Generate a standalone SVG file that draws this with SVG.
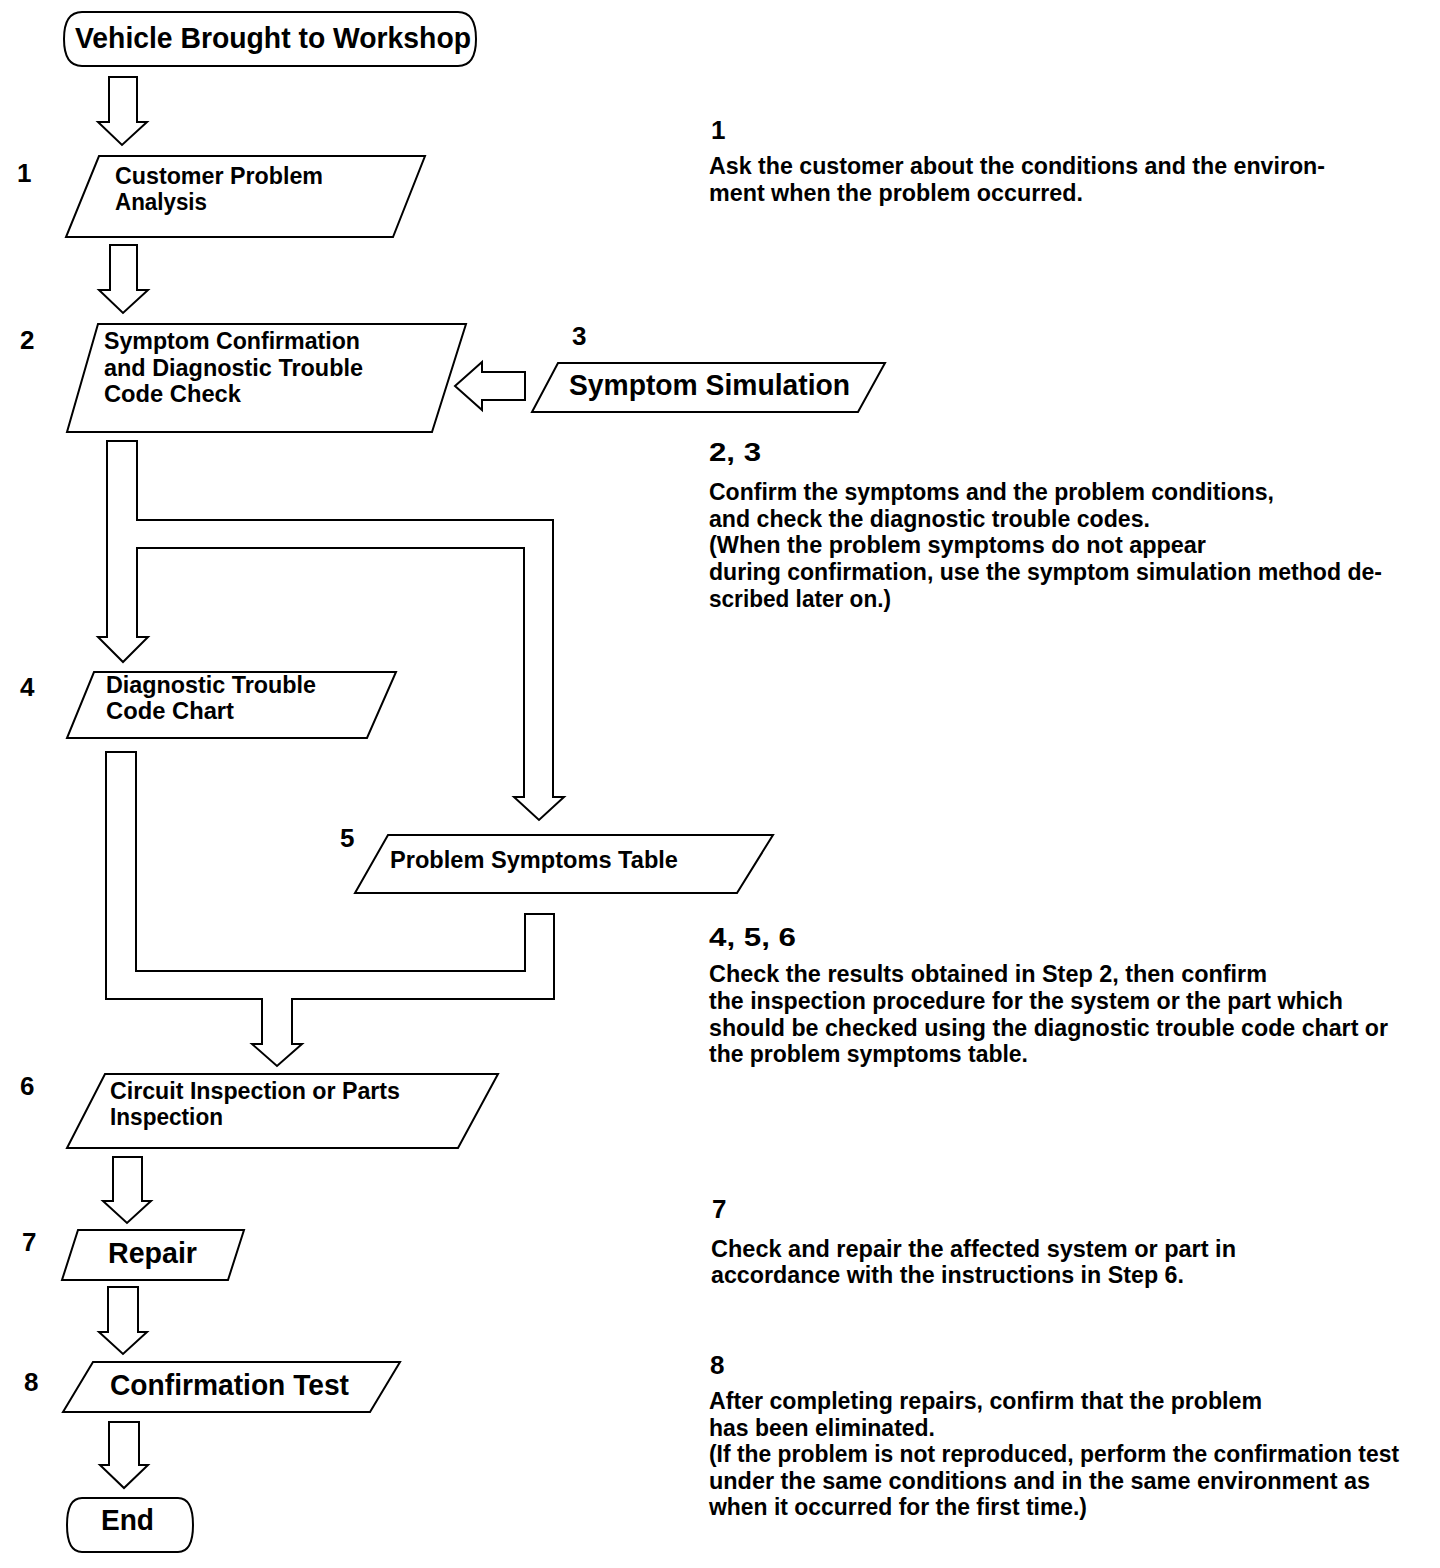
<svg xmlns="http://www.w3.org/2000/svg" width="1440" height="1568" viewBox="0 0 1440 1568">
<style>
.shape{fill:#fff;stroke:#000;stroke-width:2;stroke-linejoin:miter}
.arrow{fill:#fff;stroke:#000;stroke-width:2;stroke-linejoin:miter}
text{font-family:"Liberation Sans",Arial,Helvetica,sans-serif;font-weight:bold;fill:#000}
.s{font-size:23px}
.b{font-size:29px}
.n{font-size:26px}
.d{font-size:23px}
</style>
<rect x="0" y="0" width="1440" height="1568" fill="#fff"/>
<g id="connectors">
<polygon class="arrow" points="109,77 137,77 137,122 147,122 122,145 98,122 109,122"/>
<polygon class="arrow" points="110,245 137,245 137,290 148,290 123,313 99,290 110,290"/>
<polygon class="arrow" points="525,372 525,400 482,400 482,410 455,386 482,362 482,372"/>
<polygon class="arrow" points="107,441 137,441 137,520 553,520 553,797 564,797 539,820 514,797 524,797 524,548 137,548 137,637 148,637 123,662 98,637 107,637"/>
<polygon class="arrow" points="106,752 136,752 136,971 525,971 525,914 554,914 554,999 292,999 292,1044 302,1044 277,1066 252,1044 262,1044 262,999 106,999"/>
<polygon class="arrow" points="113,1157 142,1157 142,1201 151,1201 127,1223 103,1201 113,1201"/>
<polygon class="arrow" points="108,1287 138,1287 138,1332 147,1332 123,1354 99,1332 108,1332"/>
<polygon class="arrow" points="109,1422 139,1422 139,1465 148,1465 124,1488 100,1465 109,1465"/>
</g>
<g id="start">
<path class="shape" d="M82,12 H458 Q476,12 476,39 Q476,66 458,66 H82 Q64,66 64,39 Q64,12 82,12 Z"/>
<text class="b" x="75" y="48" textLength="396" lengthAdjust="spacingAndGlyphs">Vehicle Brought to Workshop</text>
</g>
<g id="step1">
<polygon class="shape" points="99,156 425,156 393,237 66,237"/>
<text class="n" x="17" y="182">1</text>
<text class="s" x="115" y="184" textLength="208" lengthAdjust="spacingAndGlyphs">Customer Problem</text>
<text class="s" x="115" y="210" textLength="92" lengthAdjust="spacingAndGlyphs">Analysis</text>
</g>
<g id="step2">
<polygon class="shape" points="98,324 466,324 432,432 67,432"/>
<text class="n" x="20" y="349">2</text>
<text class="s" x="104" y="349" textLength="256" lengthAdjust="spacingAndGlyphs">Symptom Confirmation</text>
<text class="s" x="104" y="376" textLength="259" lengthAdjust="spacingAndGlyphs">and Diagnostic Trouble</text>
<text class="s" x="104" y="402" textLength="137" lengthAdjust="spacingAndGlyphs">Code Check</text>
</g>
<g id="step3">
<polygon class="shape" points="558,363 885,363 858,412 532,412"/>
<text class="n" x="572" y="345">3</text>
<text class="b" x="569" y="395" textLength="281" lengthAdjust="spacingAndGlyphs">Symptom Simulation</text>
</g>
<g id="step4">
<polygon class="shape" points="94,672 396,672 367,738 67,738"/>
<text class="n" x="20" y="696">4</text>
<text class="s" x="106" y="693" textLength="210" lengthAdjust="spacingAndGlyphs">Diagnostic Trouble</text>
<text class="s" x="106" y="719" textLength="128" lengthAdjust="spacingAndGlyphs">Code Chart</text>
</g>
<g id="step5">
<polygon class="shape" points="388,835 773,835 737,893 355,893"/>
<text class="n" x="340" y="847">5</text>
<text class="s" x="390" y="868" textLength="288" lengthAdjust="spacingAndGlyphs">Problem Symptoms Table</text>
</g>
<g id="step6">
<polygon class="shape" points="105,1074 498,1074 458,1148 67,1148"/>
<text class="n" x="20" y="1095">6</text>
<text class="s" x="110" y="1099" textLength="290" lengthAdjust="spacingAndGlyphs">Circuit Inspection or Parts</text>
<text class="s" x="110" y="1125" textLength="113" lengthAdjust="spacingAndGlyphs">Inspection</text>
</g>
<g id="step7">
<polygon class="shape" points="78,1230 244,1230 228,1280 62,1280"/>
<text class="n" x="22" y="1251">7</text>
<text class="b" x="108" y="1263" textLength="89" lengthAdjust="spacingAndGlyphs">Repair</text>
</g>
<g id="step8">
<polygon class="shape" points="93,1362 400,1362 370,1412 63,1412"/>
<text class="n" x="24" y="1391">8</text>
<text class="b" x="110" y="1395" textLength="239" lengthAdjust="spacingAndGlyphs">Confirmation Test</text>
</g>
<g id="end">
<path class="shape" d="M82,1498 H178 Q193,1498 193,1525 Q193,1552 178,1552 H82 Q67,1552 67,1525 Q67,1498 82,1498 Z"/>
<text class="b" x="101" y="1530" textLength="53" lengthAdjust="spacingAndGlyphs">End</text>
</g>
<g id="notes">
<text class="n" x="711" y="139">1</text>
<text class="d" x="709" y="174" textLength="616" lengthAdjust="spacingAndGlyphs">Ask the customer about the conditions and the environ-</text>
<text class="d" x="709" y="201" textLength="374" lengthAdjust="spacingAndGlyphs">ment when the problem occurred.</text>
<text class="n" x="709" y="461" textLength="52" lengthAdjust="spacingAndGlyphs">2, 3</text>
<text class="d" x="709" y="500" textLength="565" lengthAdjust="spacingAndGlyphs">Confirm the symptoms and the problem conditions,</text>
<text class="d" x="709" y="527" textLength="441" lengthAdjust="spacingAndGlyphs">and check the diagnostic trouble codes.</text>
<text class="d" x="709" y="553" textLength="497" lengthAdjust="spacingAndGlyphs">(When the problem symptoms do not appear</text>
<text class="d" x="709" y="580" textLength="673" lengthAdjust="spacingAndGlyphs">during confirmation, use the symptom simulation method de-</text>
<text class="d" x="709" y="607" textLength="182" lengthAdjust="spacingAndGlyphs">scribed later on.)</text>
<text class="n" x="709" y="946" textLength="87" lengthAdjust="spacingAndGlyphs">4, 5, 6</text>
<text class="d" x="709" y="982" textLength="558" lengthAdjust="spacingAndGlyphs">Check the results obtained in Step 2, then confirm</text>
<text class="d" x="709" y="1009" textLength="634" lengthAdjust="spacingAndGlyphs">the inspection procedure for the system or the part which</text>
<text class="d" x="709" y="1036" textLength="679" lengthAdjust="spacingAndGlyphs">should be checked using the diagnostic trouble code chart or</text>
<text class="d" x="709" y="1062" textLength="319" lengthAdjust="spacingAndGlyphs">the problem symptoms table.</text>
<text class="n" x="712" y="1218">7</text>
<text class="d" x="711" y="1257" textLength="525" lengthAdjust="spacingAndGlyphs">Check and repair the affected system or part in</text>
<text class="d" x="711" y="1283" textLength="473" lengthAdjust="spacingAndGlyphs">accordance with the instructions in Step 6.</text>
<text class="n" x="710" y="1374">8</text>
<text class="d" x="709" y="1409" textLength="553" lengthAdjust="spacingAndGlyphs">After completing repairs, confirm that the problem</text>
<text class="d" x="709" y="1436" textLength="226" lengthAdjust="spacingAndGlyphs">has been eliminated.</text>
<text class="d" x="709" y="1462" textLength="690" lengthAdjust="spacingAndGlyphs">(If the problem is not reproduced, perform the confirmation test</text>
<text class="d" x="709" y="1489" textLength="661" lengthAdjust="spacingAndGlyphs">under the same conditions and in the same environment as</text>
<text class="d" x="709" y="1515" textLength="378" lengthAdjust="spacingAndGlyphs">when it occurred for the first time.)</text>
</g>
</svg>
